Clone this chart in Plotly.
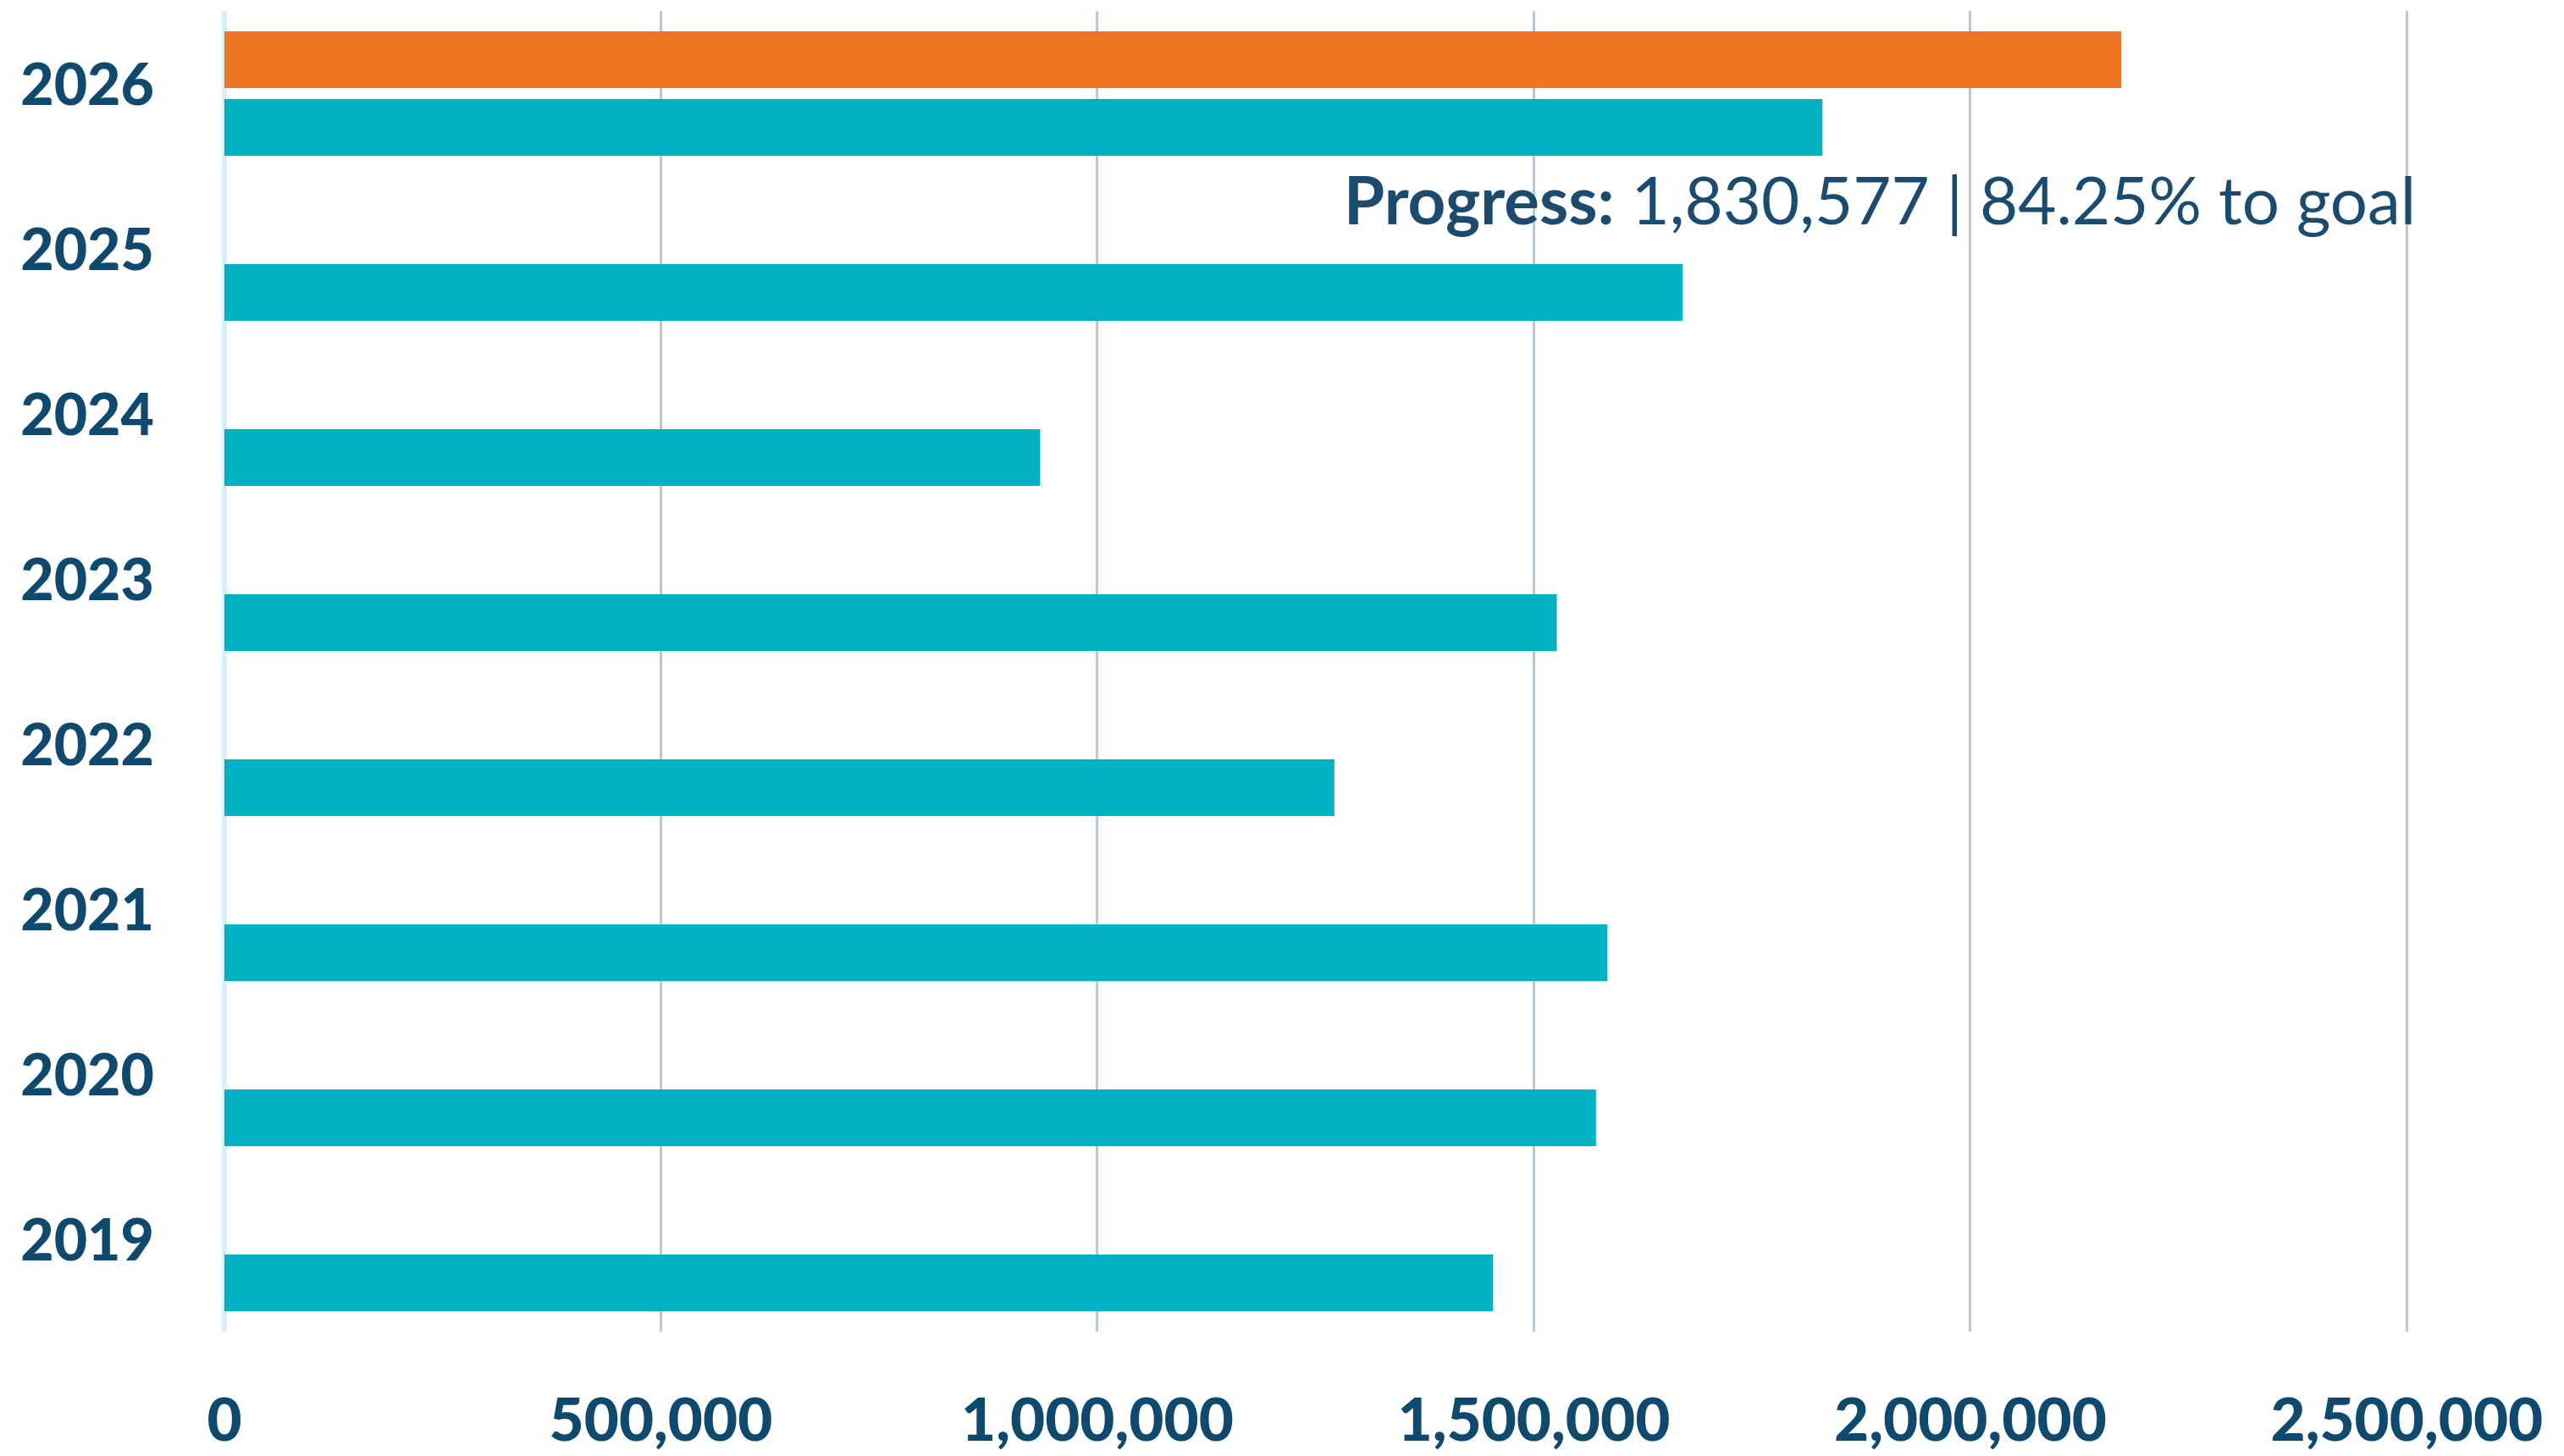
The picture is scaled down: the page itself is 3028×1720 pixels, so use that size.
import plotly.graph_objects as go

# datos
years = ["2026", "2025", "2024", "2023", "2022", "2021", "2020", "2019"]
goal_values = [2172792, None, None, None, None, None, None, None]
progress_values = [1830577, 1670400, 934500, 1526200, 1271500, 1584300, 1571200, 1453200]
x_tickvals = [0, 500000, 1000000, 1500000, 2000000, 2500000]
x_ticktext = ["0", "500,000", "1,000,000", "1,500,000", "2,000,000", "2,500,000"]

NAVY = "#0f4a6e"
TEAL = "#00b2c4"
ORANGE = "#ee7623"

pct = progress_values[0] / goal_values[0] * 100

fig = go.Figure()

# Meta (naranja) primero -> queda arriba del grupo
fig.add_trace(go.Bar(
    y=years, x=goal_values, orientation="h",
    marker=dict(color=ORANGE, line=dict(width=0)),
    name="Goal", showlegend=False,
))
fig.add_trace(go.Bar(
    y=years, x=progress_values, orientation="h",
    marker=dict(color=TEAL, line=dict(width=0)),
    name="Progress", showlegend=False,
))

fig.add_annotation(
    x=2512000, xref="x", xanchor="right",
    y=0.8575, yref="paper", yanchor="middle",
    text=f"<b>Progress:</b> {progress_values[0]:,} | {pct:.2f}% to goal",
    showarrow=False,
    font=dict(family="Lato", size=78, color="#1b4c70"),
)

# el body de la pagina tiene 8px de margen: figura 8px mas chica
fig.update_layout(
    width=3020, height=1712,
    margin=dict(l=257, r=165, t=5, b=147, autoexpand=False),
    barmode="group",
    bargap=0.18,
    bargroupgap=0.16,
    plot_bgcolor="white",
    paper_bgcolor="white",
    xaxis=dict(
        range=[0, 2520000],
        tickvals=x_tickvals, ticktext=x_ticktext,
        showgrid=True, gridcolor="#b9c8d4", gridwidth=3,
        zeroline=True, zerolinecolor="#d6eff9", zerolinewidth=6,
        showline=False, ticks="", automargin=False,
        ticklabelstandoff=57,
        tickfont=dict(family="Lato", size=71, color=NAVY, weight=900),
    ),
    yaxis=dict(
        type="category",
        categoryorder="array", categoryarray=years,
        range=[7.5, -0.5],
        showgrid=False, zeroline=False, showline=False, ticks="", automargin=False,
        ticklabelstandoff=82,
        ticklabelshift=10,
        tickfont=dict(family="Lato", size=68, color=NAVY, weight=900),
    ),
)

fig.write_html("out.html")
